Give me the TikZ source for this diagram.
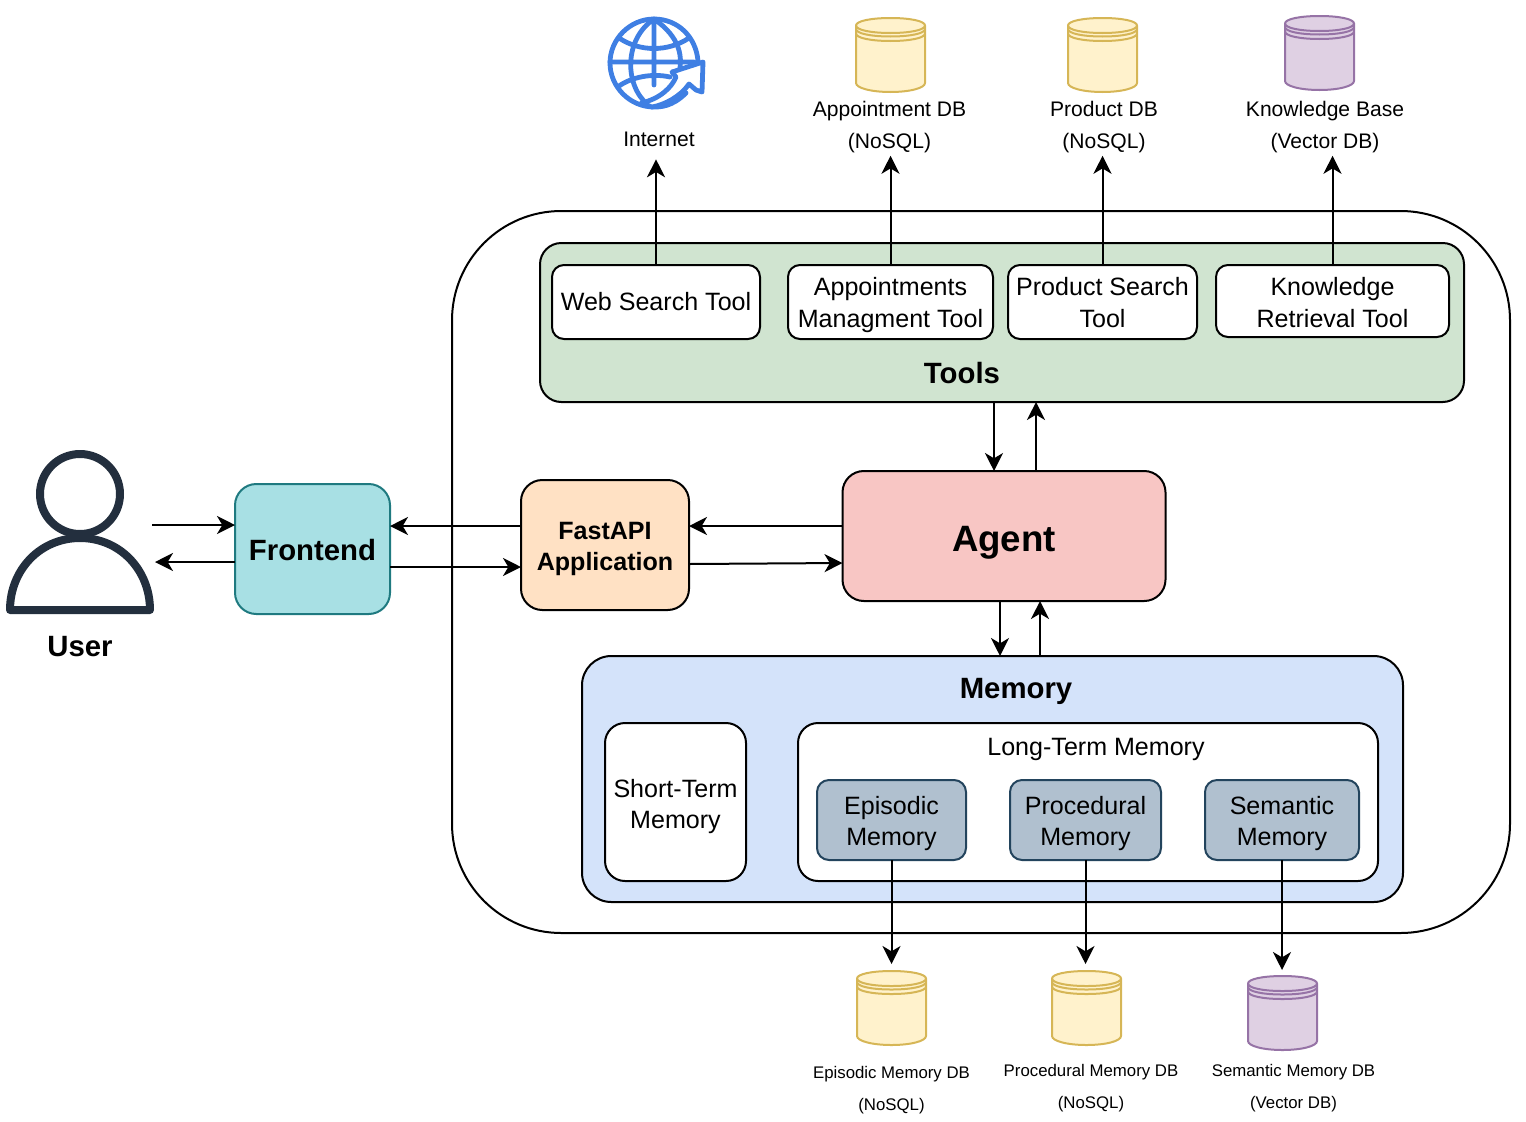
\documentclass[tikz,border=0pt]{standalone}
\usepackage{fontspec}
\setmainfont{Liberation Sans}
\usetikzlibrary{arrows.meta}
\definecolor{creamfill}{HTML}{FFF2CC}
\definecolor{creamline}{HTML}{D6B656}
\definecolor{purplefill}{HTML}{DFD0E3}
\definecolor{purpleline}{HTML}{9673A6}
\definecolor{globeblue}{HTML}{3F7FE3}
\definecolor{userdark}{HTML}{232F3E}
\definecolor{greyfill}{HTML}{B0C0CF}
\definecolor{greyline}{HTML}{23445D}
\definecolor{toolsgreen}{HTML}{D0E4D0}
\definecolor{memblue}{HTML}{D4E3FA}
\definecolor{agentred}{HTML}{F8C6C4}
\definecolor{apiorange}{HTML}{FFE1C4}
\definecolor{frontteal}{HTML}{A8E0E4}
\definecolor{frontline}{HTML}{1F7A80}
\newcommand{\sz}[2]{\fontsize{#1}{#2}\selectfont}
\newcommand{\drop}[1]{\rule{0pt}{#1pt}}
% database drum, top left corner at #1,#2
\newcommand{\dbdrum}[4]{
  \begin{scope}[shift={(#1,#2)}]
    \draw [fill=#3, draw=#4, line width=1.5pt] (0,7.5) ..controls (0,3) and (15,0) .. (34.5,0) ..controls (54,0) and (69,3) .. (69,7.5)
      -- (69,65) ..controls (69,70) and (54,74) .. (34.5,74) ..controls (15,74) and (0,70) .. (0,65) -- cycle;
    \draw [draw=#4, line width=1.5pt] (0,7.5) ..controls (0,12) and (15,15) .. (34.5,15) ..controls (54,15) and (69,12) .. (69,7.5);
    \draw [draw=#4, line width=1.5pt] (0,11) ..controls (0,15.5) and (15,18.5) .. (34.5,18.5) ..controls (54,18.5) and (69,15.5) .. (69,11);
    \draw [draw=#4, line width=1.5pt] (0,15.5) ..controls (0,20) and (15,23) .. (34.5,23) ..controls (54,23) and (69,20) .. (69,15.5);
  \end{scope}
}
\tikzset{
  sized/.style 2 args={minimum width=#1*.75pt, minimum height=#2*.75pt, inner sep=0pt, outer sep=0pt},
  box/.style={draw=black, line width=1.5pt, align=center},
  toolbox/.style={box, fill=white, rounded corners=9pt, font=\sz{18.8}{24}},
  membox/.style={box, fill=white, rounded corners=15pt, font=\sz{18.8}{23.25}},
  greybox/.style={box, fill=greyfill, draw=greyline, rounded corners=9pt, font=\sz{18.8}{23.25}},
  dblabel/.style={align=center, inner sep=2pt, font=\sz{15.8}{24}},
  dbsmall/.style={align=center, inner sep=2pt, font=\sz{12.6}{24}},
  title/.style={font=\bfseries\sz{22}{26}, inner sep=0pt},
  link/.style={->, line width=1.5pt}
}
\begin{document}
\begin{tikzpicture}[x=.75pt, y=-.75pt, >={Stealth[length=13.5pt, width=13.5pt, inset=4pt]}]
  \useasboundingbox (0,0) rectangle (1526,1121);
  %% containers
  \node (backend) at (981,572) [box, sized={1058}{722}, rounded corners=82pt] {};
  \node (tools) at (1002,322.5) [box, sized={924}{159}, fill=toolsgreen, rounded corners=16pt] {};
  \node (memory) at (992.5,779) [box, sized={821}{246}, fill=memblue, rounded corners=22pt] {};
  \node (toolstitle) at (962,373) [title] {Tools};
  \node (memorytitle) at (1016,691) [title] {Memory};
  %% tools
  \node (websearch) at (656,302) [toolbox, sized={208}{74}] {Web Search Tool};
  \node (appttool) at (890.5,302) [toolbox, sized={205}{74}] {\drop{18}Appointments\\Managment Tool};
  \node (prodtool) at (1102.5,302) [toolbox, sized={189}{74}] {\drop{15}Product Search\\Tool};
  \node (kbtool) at (1332.5,301) [toolbox, sized={233}{72}] {\drop{16}Knowledge\\Retrieval Tool};
  %% middle row
  \node (agent) at (1004,536) [box, sized={323}{130}, fill=agentred, rounded corners=16pt, font=\bfseries\sz{27.5}{32}] {\drop{29}Agent};
  \node (fastapi) at (605,545) [box, sized={168}{130}, fill=apiorange, rounded corners=16pt, font=\bfseries\sz{18.8}{23.25}] {\drop{19.5}FastAPI\\Application};
  \node (frontend) at (312.5,549) [box, sized={155}{130}, fill=frontteal, draw=frontline, rounded corners=16pt, font=\bfseries\sz{22}{26}] {\drop{17.5}Frontend};
  %% memory
  \node (shortterm) at (675.5,802) [membox, sized={141}{158}] {\drop{21}Short-Term\\Memory};
  \node (longterm) at (1088,802) [membox, sized={580}{158}] {};
  \node (longtitle) at (1096,749) [font=\sz{18.8}{24}, inner sep=0pt] {Long-Term Memory};
  \node (episodic) at (891.5,820) [greybox, sized={149}{80}] {\drop{18.7}Episodic\\Memory};
  \node (procedural) at (1085.5,820) [greybox, sized={151}{80}] {\drop{18.7}Procedural\\Memory};
  \node (semantic) at (1282,820) [greybox, sized={154}{80}] {\drop{18.7}Semantic\\Memory};
  %% stores on top
  \dbdrum{856}{18}{creamfill}{creamline}
  \dbdrum{1068}{18}{creamfill}{creamline}
  \dbdrum{1285}{16}{purplefill}{purpleline}
  \node (internet) at (659,139) [dblabel, inner ysep=9.5pt] {Internet};
  \node (apptdb) at (889.5,127) [dblabel] {Appointment DB\\(NoSQL)};
  \node (proddb) at (1104,127) [dblabel] {Product DB\\(NoSQL)};
  \node (kbdb) at (1325,127) [dblabel] {Knowledge Base\\(Vector DB)};
  %% stores below
  \dbdrum{857}{971}{creamfill}{creamline}
  \dbdrum{1052}{971}{creamfill}{creamline}
  \dbdrum{1248}{976}{purplefill}{purpleline}
  \node (episodicdb) at (891.5,1090) [dbsmall] {Episodic Memory DB\\(NoSQL)};
  \node (proceduraldb) at (1091,1088) [dbsmall] {Procedural Memory DB\\(NoSQL)};
  \node (semanticdb) at (1293.5,1088) [dbsmall] {Semantic Memory DB\\(Vector DB)};
  \coordinate (episodicin) at (891.5,964);
  \coordinate (proceduralin) at (1085.5,964);
  \coordinate (semanticin) at (1282,970);
  %% globe
  \draw [globeblue, line width=3.6pt, line cap=round, line join=round]
    (686,93) ..controls (672,107) and (660,107) .. (654,107) ..controls (630,107) and (610,87) .. (610,63)
    ..controls (610,39) and (630,19) .. (654,19) ..controls (678,19) and (696,37) .. (698,61);
  \draw [globeblue, line width=3.6pt, line cap=round]
    (654,19) -- (654,85) (610,62) -- (694,62)
    (654,19) ..controls (624,39) and (624,85) .. (648,105)
    (654,19) ..controls (680,37) and (684,57) .. (678,77)
    (619,38) ..controls (640,52) and (668,52) .. (689,38)
    (619,86) ..controls (632,77) and (652,73) .. (670,77);
  \draw [globeblue, fill=white, line width=3.6pt, line join=round]
    (641,103) ..controls (660,99) and (672,87) .. (676,77) -- (672,72) -- (703,62) -- (702,92) -- (696,90) -- (689,84)
    ..controls (680,97) and (664,105) .. (652,107) -- cycle;
  %% user
  \node (userhead) at (80,494) [circle, draw=userdark, line width=6pt, minimum size=80*.75pt, inner sep=0pt] {};
  \draw [userdark, fill=white, line width=6pt, line join=round] (10,610) ..controls (10,570) and (40,538) .. (80,538)
    ..controls (120,538) and (150,570) .. (150,610) -- cycle;
  \node (user) at (80,646.5) [title] {User};
  \coordinate (userin) at (152,525);
  \coordinate (userout) at (155,562);
  %% links
  \draw [link] (userin) -- (frontend.west |- userin);
  \draw [link] (frontend.west |- userout) -- (userout);
  \draw [link] (fastapi.west |- 0,526) -- (frontend.east |- 0,526);
  \draw [link] (frontend.east |- 0,567) -- (fastapi.west |- 0,567);
  \draw [link] (agent.west |- 0,526) -- (fastapi.east |- 0,526);
  \draw [link] (fastapi.east |- 0,564) -- (agent.west |- 0,563);
  \draw [link] (tools.south -| 994,0) -- (agent.north -| 994,0);
  \draw [link] (agent.north -| 1036,0) -- (tools.south -| 1036,0);
  \draw [link] (agent.south -| 1000,0) -- (memory.north -| 1000,0);
  \draw [link] (memory.north -| 1040,0) -- (agent.south -| 1040,0);
  \draw [link] (websearch.north) -- (websearch.north |- internet.south);
  \draw [link] (appttool.north) -- (appttool.north |- apptdb.south);
  \draw [link] (prodtool.north) -- (prodtool.north |- proddb.south);
  \draw [link] (kbtool.north) -- (kbtool.north |- kbdb.south);
  \draw [link] (episodic.south) -- (episodicin);
  \draw [link] (procedural.south) -- (proceduralin);
  \draw [link] (semantic.south) -- (semanticin);
\end{tikzpicture}
\end{document}
